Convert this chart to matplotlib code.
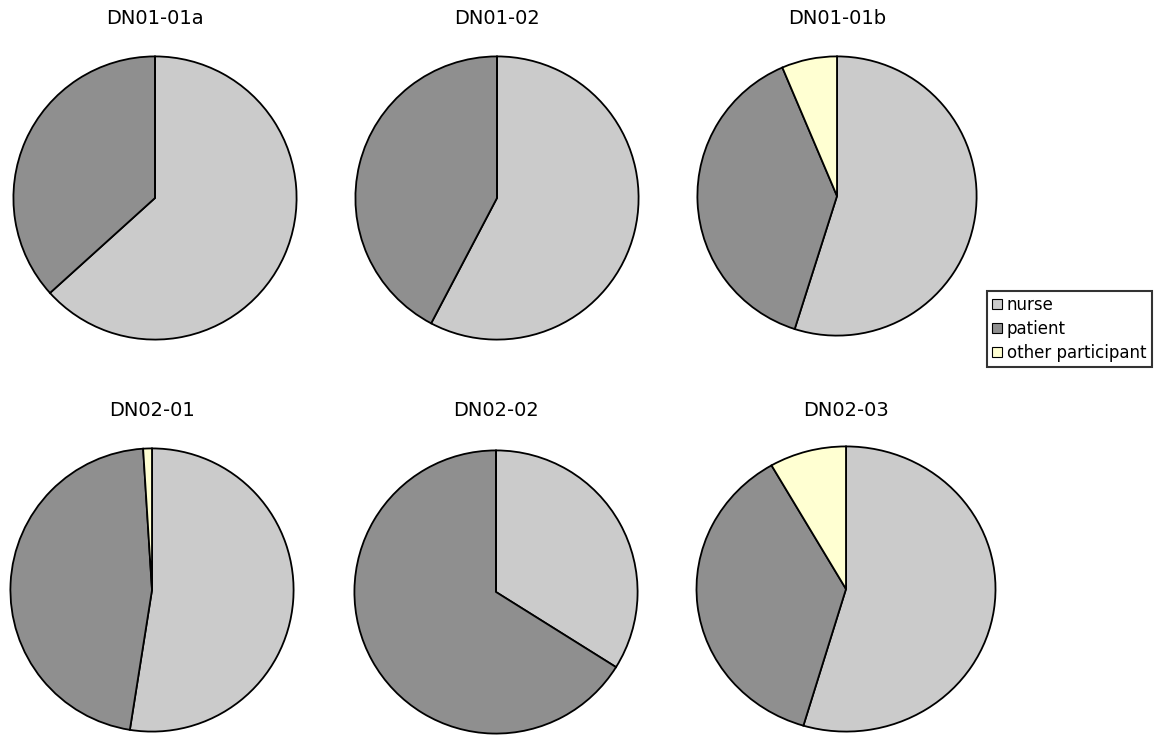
import matplotlib
matplotlib.use("Agg")
import matplotlib.pyplot as plt
from matplotlib.patches import Patch

# Share of talk per participant in each recorded consultation (%)
titles = ["DN01-01a", "DN01-02", "DN01-01b", "DN02-01", "DN02-02", "DN02-03"]
nurse = [63.3, 57.7, 54.9, 52.5, 33.9, 54.6]
patient = [36.7, 42.3, 38.7, 46.5, 66.1, 37.1]
other = [0.0, 0.0, 6.4, 1.0, 0.0, 8.3]
categories = ["nurse", "patient", "other participant"]
colors = ["#CBCBCB", "#8F8F8F", "#FFFFD2"]

W, H = 1172, 738
fig = plt.figure(figsize=(W / 100, H / 100), dpi=100)
fig.patch.set_facecolor("white")

# pie centre (px from left, px from top), half-width px, half-height px, title y px
layout = [
    (155, 198, 143, 143, 18),
    (497, 198, 143, 143, 18),
    (837, 196, 141, 141, 18),
    (152, 590, 143, 143, 411),
    (496, 592, 143, 143, 411),
    (846, 589, 151, 144, 411),
]

for i, (cx, cy, rx, ry, ty) in enumerate(layout):
    ax = fig.add_axes([(cx - rx) / W, (H - cy - ry) / H, 2 * rx / W, 2 * ry / H])
    vals = [nurse[i], patient[i], other[i]]
    ax.pie(vals, colors=colors, startangle=90, counterclock=False,
           wedgeprops=dict(edgecolor="black", linewidth=1.3),
           radius=1.0)
    ax.set_xlim(-1.01, 1.01)
    ax.set_ylim(-1.01, 1.01)
    ax.set_aspect("auto")
    ax.axis("off")
    fig.text(cx / W, 1 - ty / H, titles[i], ha="center", va="center",
             fontsize=14, family="DejaVu Sans")

handles = [Patch(facecolor=c, edgecolor="black", linewidth=0.8, label=l)
           for c, l in zip(colors, categories)]
leg = fig.legend(handles=handles, loc="upper left",
                 bbox_to_anchor=(987 / W, 1 - 291 / H),
                 fontsize=12, frameon=True, fancybox=False, borderpad=0.3,
                 handlelength=0.6, handleheight=0.6, handletextpad=0.3,
                 labelspacing=0.35, borderaxespad=0)
leg.get_frame().set_edgecolor("black")
leg.get_frame().set_linewidth(1.5)

fig.savefig("out.png", dpi=100, facecolor="white")
